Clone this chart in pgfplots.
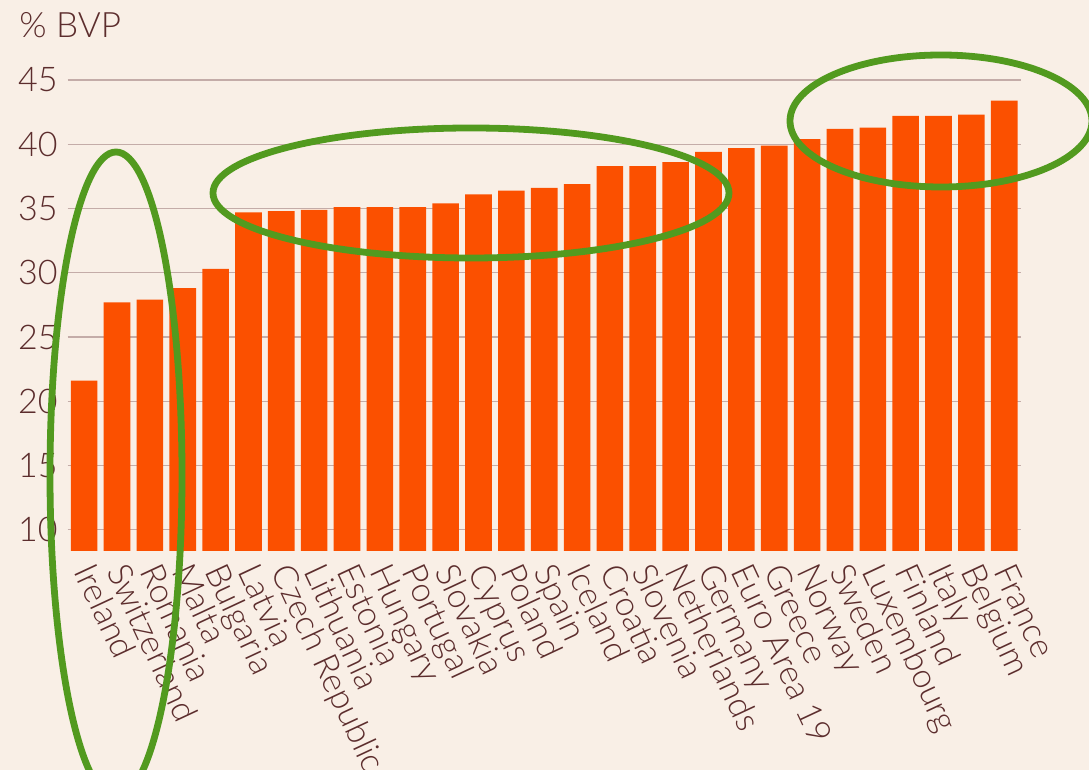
\documentclass[border=0pt]{standalone}
\usepackage{pgfplots}
\pgfplotsset{compat=1.18}
\usepackage{fontspec}
\setmainfont{Lato Light}
\definecolor{bgcol}{HTML}{F9EFE6}
\definecolor{barcol}{HTML}{FB5000}
\definecolor{txtcol}{HTML}{5C2D2D}
\definecolor{gridcol}{HTML}{C4ACA8}
\definecolor{ringcol}{HTML}{529A1F}
\begin{document}
\begin{tikzpicture}
\path[use as bounding box] (0,0) rectangle (544.5pt,385pt);
\clip (0,0) rectangle (544.5pt,385pt);
\fill[bgcol] (0,0) rectangle (544.5pt,385pt);
\begin{axis}[
	at={(33.85pt,109.5pt)}, anchor=south west,
	scale only axis, width=476.5pt, height=235.5pt,
	ybar, bar width=0.81,
	xmin=-0.5, xmax=28.5, ymin=8.35, ymax=45,
	axis line style={draw=none}, major tick length=0pt,
	ytick={10,15,...,45},
	ymajorgrids, grid style={gridcol, line width=0.6pt},
	xtick={0,...,28},
	xticklabels={Ireland, Switzerland, Romania, Malta, Bulgaria, Latvia,
		Czech Republic, Lithuania, Estonia, Hungary, Portugal, Slovakia,
		Cyprus, Poland, Spain, Iceland, Croatia, Slovenia, Netherlands,
		Germany, Euro Area 19, Greece, Norway, Sweden, Luxembourg,
		Finland, Italy, Belgium, France},
	tick label style={font=\fontsize{17}{20}\selectfont, text=txtcol,
		/pgf/number format/assume math mode=true},
	xticklabel style={xshift=-5.5pt, yshift=-10pt, rotate=-65,
		anchor=base west, inner sep=0pt},
	yticklabel style={xshift=-1.5pt},
]
\addplot[fill=barcol, draw=none] coordinates {
	(0, 21.6) (1, 27.7) (2, 27.9) (3, 28.8) (4, 30.3) (5, 34.7)
	(6, 34.8) (7, 34.9) (8, 35.1) (9, 35.1) (10, 35.1) (11, 35.4)
	(12, 36.1) (13, 36.4) (14, 36.6) (15, 36.9) (16, 38.3) (17, 38.3)
	(18, 38.6) (19, 39.4) (20, 39.7) (21, 39.9) (22, 40.4) (23, 41.2)
	(24, 41.3) (25, 42.2) (26, 42.2) (27, 42.3) (28, 43.4)
};
\end{axis}
\node[anchor=base west, inner sep=0pt, text=txtcol,
	font=\fontsize{17.5}{20}\selectfont] at (9.5pt,366pt) {\% BVP};
% highlight rings
\draw[ringcol, line width=3.4pt] (58pt,147.5pt) ellipse [x radius=33pt, y radius=161.5pt];
\draw[ringcol, line width=3.4pt] (235.5pt,288.5pt) ellipse [x radius=129pt, y radius=32.5pt];
\draw[ringcol, line width=3.4pt] (470.5pt,324.5pt) ellipse [x radius=75.5pt, y radius=33pt];
\end{tikzpicture}
\end{document}
